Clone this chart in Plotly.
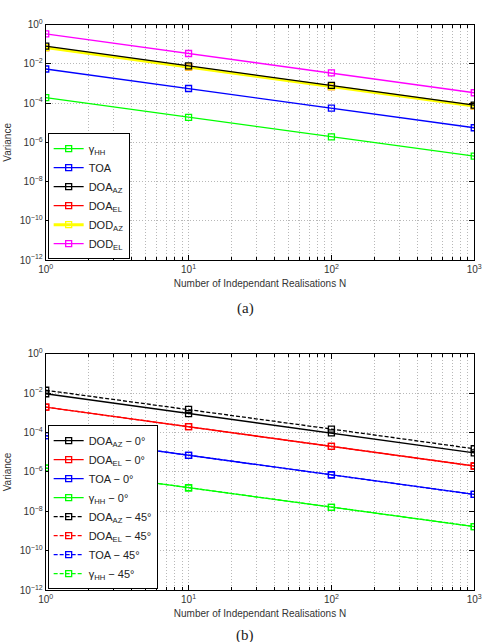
import plotly.graph_objects as go

N = [1, 10, 100, 1000]

# (a) variances
a_gamma = [1.9e-4, 1.9e-5, 1.9e-6, 2.0e-7]
a_toa = [5.5e-3, 5.6e-4, 5.6e-5, 5.6e-6]
a_doa_az = [8.0e-2, 8.0e-3, 8.0e-4, 8.0e-5]
a_doa_el = [6.8e-2, 7.0e-3, 7.0e-4, 7.2e-5]
a_dod_az = [6.8e-2, 7.0e-3, 7.0e-4, 7.2e-5]
a_dod_el = [3.4e-1, 3.4e-2, 3.5e-3, 3.4e-4]

# (b) variances
b_doa_az_0 = [9.3e-3, 9.1e-4, 9.5e-5, 9.3e-6]
b_doa_el_0 = [1.95e-3, 2.0e-4, 2.0e-5, 2.0e-6]
b_toa_0 = [7.0e-5, 7.0e-6, 7.2e-7, 7.2e-8]
b_gamma_0 = [1.55e-6, 1.58e-7, 1.6e-8, 1.7e-9]
b_doa_az_45 = [1.4e-2, 1.5e-3, 1.5e-4, 1.5e-5]
b_doa_el_45 = [1.95e-3, 2.0e-4, 2.0e-5, 2.0e-6]
b_toa_45 = [7.0e-5, 7.0e-6, 7.2e-7, 7.2e-8]
b_gamma_45 = [1.55e-6, 1.58e-7, 1.6e-8, 1.7e-9]

xtick_vals = [1, 10, 100, 1000]
xtick_text = ["10<sup>0</sup>", "10<sup>1</sup>", "10<sup>2</sup>", "10<sup>3</sup>"]
ytick_vals = [1e-12, 1e-10, 1e-8, 1e-6, 1e-4, 1e-2, 1]
ytick_text = ["10<sup>−12</sup>", "10<sup>−10</sup>", "10<sup>−8</sup>", "10<sup>−6</sup>",
              "10<sup>−4</sup>", "10<sup>−2</sup>", "10<sup>0</sup>"]
xminor = [m * 10 ** k for k in range(3) for m in range(2, 10)]

GREEN, BLUE, BLACK, RED, YELLOW, MAGENTA = "#00ff00", "#0000ff", "#000000", "#ff0000", "#ffff00", "#ff00ff"

fig = go.Figure()

def add(y, name, color, xa, ya, legend, rank, dash="solid", width=1.3):
    fig.add_trace(go.Scatter(
        x=N, y=y, name=name, mode="lines+markers",
        line=dict(color=color, width=width, dash=dash),
        marker=dict(symbol="square-open", size=6, color=color, line=dict(width=1.3, color=color)),
        xaxis=xa, yaxis=ya, legend=legend, legendrank=rank))

# top panel (drawing order differs from legend order)
add(a_gamma, "γ<sub>HH</sub>", GREEN, "x", "y", "legend", 1)
add(a_toa, "TOA", BLUE, "x", "y", "legend", 2)
add(a_doa_el, "DOA<sub>EL</sub>", RED, "x", "y", "legend", 4)
add(a_dod_az, "DOD<sub>AZ</sub>", YELLOW, "x", "y", "legend", 5, width=3)
add(a_doa_az, "DOA<sub>AZ</sub>", BLACK, "x", "y", "legend", 3)
add(a_dod_el, "DOD<sub>EL</sub>", MAGENTA, "x", "y", "legend", 6)

# bottom panel
DASH = "4px,2px"
add(b_doa_az_0, "DOA<sub>AZ</sub> − 0°", BLACK, "x2", "y2", "legend2", 1)
add(b_doa_el_0, "DOA<sub>EL</sub> − 0°", RED, "x2", "y2", "legend2", 2)
add(b_toa_0, "TOA − 0°", BLUE, "x2", "y2", "legend2", 3)
add(b_gamma_0, "γ<sub>HH</sub> − 0°", GREEN, "x2", "y2", "legend2", 4)
add(b_doa_az_45, "DOA<sub>AZ</sub> − 45°", BLACK, "x2", "y2", "legend2", 5, dash=DASH)
add(b_doa_el_45, "DOA<sub>EL</sub> − 45°", RED, "x2", "y2", "legend2", 6, dash=DASH)
add(b_toa_45, "TOA − 45°", BLUE, "x2", "y2", "legend2", 7, dash=DASH)
add(b_gamma_45, "γ<sub>HH</sub> − 45°", GREEN, "x2", "y2", "legend2", 8, dash=DASH)

W, H = 490, 642
x0, x1 = 39 / W, 482 / W
FONT = dict(family="Liberation Sans, Arial, sans-serif", size=10, color="#333333")
GRID = "#b8b8b8"
GDASH = "1px,2px"

def xaxis(anchor):
    return dict(type="log", range=[0, 3], domain=[x0, x1], anchor=anchor,
                tickvals=xtick_vals, ticktext=xtick_text, ticks="inside", ticklen=5,
                showline=True, linecolor="black", linewidth=1, mirror="allticks",
                showgrid=True, gridcolor=GRID, griddash=GDASH, gridwidth=1,
                minor=dict(tickvals=xminor, ticks="inside", ticklen=3, showgrid=True,
                           gridcolor=GRID, griddash=GDASH, gridwidth=1, tickcolor="black"),
                tickcolor="black", tickfont=FONT, zeroline=False,
                title=dict(text="Number of Independant Realisations N", font=FONT, standoff=5))

def yaxis(anchor, dom):
    return dict(type="log", range=[-12, 0], domain=dom, anchor=anchor,
                tickvals=ytick_vals, ticktext=ytick_text, ticks="inside", ticklen=5,
                showline=True, linecolor="black", linewidth=1, mirror="allticks",
                showgrid=True, gridcolor=GRID, griddash=GDASH, gridwidth=1,
                tickcolor="black", tickfont=FONT, zeroline=False,
                title=dict(text="Variance", font=FONT, standoff=6))

def legend(y):
    return dict(x=x0 + 2 / W, y=y, xanchor="left", yanchor="bottom",
                bgcolor="white", bordercolor="black", borderwidth=1,
                font=dict(family="Liberation Sans, Arial, sans-serif", size=11, color="#222222"),
                tracegroupgap=0, itemwidth=30)

top_dom = [(H - 258) / H, (H - 18) / H]
bot_dom = [(H - 594.3) / H, (H - 353.3) / H]

fig.update_layout(
    width=W, height=H, margin=dict(l=0, r=0, t=0, b=0),
    paper_bgcolor="white", plot_bgcolor="white", showlegend=True,
    xaxis=xaxis("y"), yaxis=yaxis("x", top_dom),
    xaxis2=xaxis("y2"), yaxis2=yaxis("x2", bot_dom),
    legend=legend(top_dom[0] + 1 / H),
    legend2=legend(bot_dom[0] + 1 / H),
    annotations=[
        dict(text="(a)", x=0.5, y=(H - 307) / H, xref="paper", yref="paper", showarrow=False,
             yanchor="middle",
             font=dict(family="Liberation Serif, DejaVu Serif, serif", size=15, color="#222222")),
        dict(text="(b)", x=0.5, y=(H - 640) / H, xref="paper", yref="paper", showarrow=False,
             yanchor="middle",
             font=dict(family="Liberation Serif, DejaVu Serif, serif", size=15, color="#222222")),
    ],
)

fig.write_html("out.html")
